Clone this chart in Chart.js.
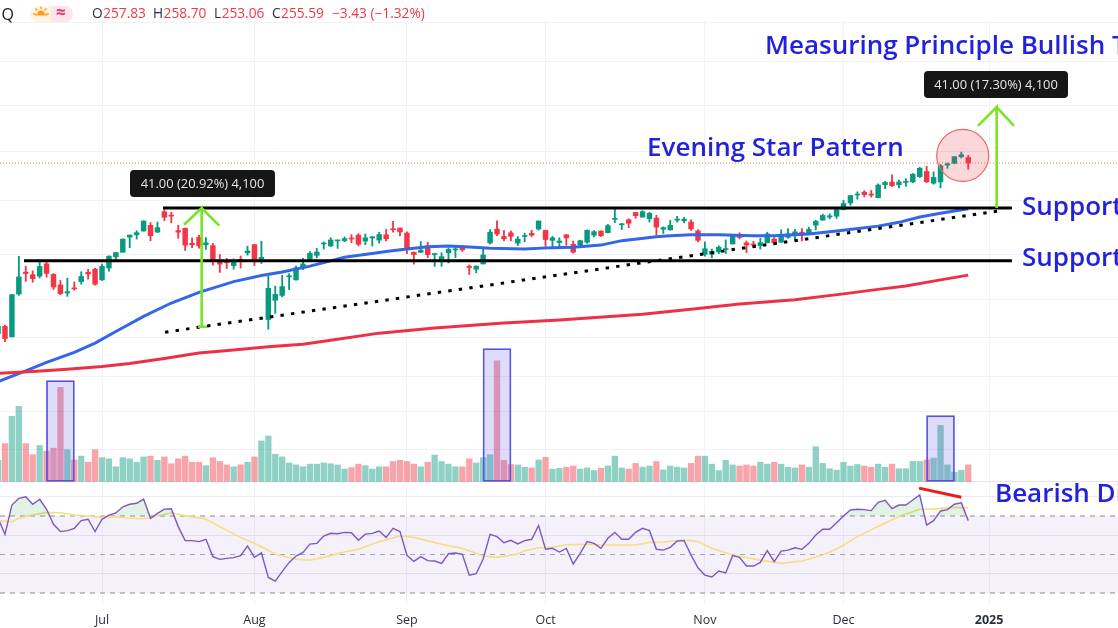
<!DOCTYPE html>
<html>
<head>
<meta charset="utf-8">
<style>
html,body{margin:0;padding:0;background:#fff;overflow:hidden}
canvas{display:block}
</style>
<script src="https://cdn.jsdelivr.net/npm/chart.js@4/dist/chart.umd.min.js"></script>
</head>
<body>
<canvas id="myChart" width="1118" height="628"></canvas>
<script>
// bars are numbered from 10 Jun (0), the first one is 7 Jun
const firstBar = -1;
const opens = [194.65,
196.90,193.65,207.37,214.74,213.85,213.37,217.59,213.93,210.39,207.72,
209.15,211.50,214.69,215.77,212.09,216.15,220.00,221.65,227.09,227.93,
229.30,231.39,228.92,236.48,235.00,229.45,230.28,224.82,227.01,224.37,
224.00,218.93,218.70,216.96,219.19,221.44,224.37,219.15,199.09,205.30,
206.90,213.11,212.10,216.07,219.01,220.57,224.60,223.92,225.72,225.77,
226.52,227.79,225.66,226.76,226.00,227.92,230.10,230.40,228.55,221.66,
221.63,223.95,220.82,218.92,221.46,222.50,223.58,216.54,215.75,217.55,
224.99,229.97,227.34,228.65,224.93,227.30,228.46,230.04,229.52,225.89,
225.14,227.90,224.50,224.30,225.23,227.78,229.30,228.70,233.61,231.60,
233.43,236.18,234.45,233.89,234.08,229.98,229.74,233.32,233.10,232.61,
229.34,220.97,220.99,221.80,222.61,224.63,227.17,225.00,224.55,224.01,
225.02,226.40,225.25,226.98,228.06,228.88,228.06,231.46,233.33,234.47,
234.81,237.27,239.81,242.87,243.99,242.91,241.83,246.89,247.96,246.89,
247.82,247.99,250.08,252.16,247.50,248.04,254.77,255.49,258.19,257.83];
const highs = [196.94,
197.30,207.16,220.20,216.75,215.17,218.95,218.63,214.24,211.89,212.70,
211.38,214.86,215.74,216.07,217.51,220.38,221.55,226.45,227.85,229.40,
233.08,232.39,232.64,237.23,236.27,231.46,230.44,226.80,227.78,226.94,
224.80,220.85,219.49,219.30,220.33,223.82,224.48,225.60,213.50,209.99,
213.64,214.20,216.78,219.51,221.89,223.03,225.35,226.83,225.99,227.17,
227.98,228.34,228.22,227.28,228.85,229.86,232.92,230.40,229.00,221.78,
225.48,225.24,221.27,221.48,223.09,223.55,224.04,217.22,216.90,222.71,
229.82,233.09,229.45,229.35,227.29,228.50,229.52,233.00,229.65,227.37,
226.81,228.00,225.69,225.98,229.75,229.50,229.41,231.73,237.49,232.12,
233.85,236.18,236.85,236.22,235.14,230.82,233.22,234.73,234.33,233.47,
229.83,225.35,222.79,223.95,226.07,227.88,228.66,225.70,225.59,226.65,
228.87,226.92,229.74,230.16,229.93,230.16,230.72,233.25,235.57,235.69,
237.81,240.79,242.76,244.11,244.54,244.63,247.24,248.21,250.80,248.74,
249.29,251.38,253.83,254.28,252.00,255.00,255.65,258.21,260.10,258.70];
const lows = [194.14,
192.15,193.63,206.90,211.60,211.30,212.72,213.00,208.85,207.11,206.59,
208.61,210.64,212.35,210.30,211.92,215.10,219.03,221.65,223.25,226.37,
229.25,225.77,228.68,233.09,232.33,226.64,222.27,223.28,223.09,222.68,
217.13,214.62,216.01,215.75,216.12,220.63,217.02,217.71,196.00,201.07,
206.39,208.83,211.97,215.60,219.01,219.70,222.76,223.65,223.04,225.45,
225.05,223.90,224.33,223.89,224.89,225.68,228.88,227.48,221.17,217.48,
221.52,219.77,216.71,216.73,217.89,219.82,221.91,213.92,214.50,217.54,
224.63,227.62,225.81,225.73,224.02,225.41,227.30,229.65,223.74,223.02,
223.32,224.13,221.33,223.25,224.83,227.17,227.34,228.60,232.37,229.84,
230.52,234.01,234.45,232.60,227.76,228.41,229.57,232.55,232.32,229.55,
225.37,220.27,219.71,221.14,221.19,224.57,226.41,221.50,223.36,222.76,
225.00,224.27,225.17,226.66,225.89,225.71,228.06,229.74,233.33,233.81,
233.97,237.16,238.90,241.25,242.13,242.08,241.75,245.34,246.26,245.68,
246.24,247.65,249.78,247.74,247.09,245.69,253.45,255.29,257.63,253.06];
const closes = [196.89,
193.12,207.15,213.07,214.24,212.49,216.67,214.29,209.68,207.49,208.14,
209.07,213.25,214.10,210.62,216.75,220.27,221.55,226.34,227.82,228.68,
232.98,227.57,230.54,234.40,234.82,228.88,224.18,224.31,223.96,225.01,
218.54,217.49,217.96,218.24,218.80,222.08,218.36,219.86,209.27,207.23,
209.82,213.31,216.24,217.53,221.27,221.72,224.72,226.05,225.89,226.51,
226.40,224.53,226.84,227.18,228.03,226.49,229.79,229.00,222.77,220.85,
222.38,220.82,220.91,220.11,222.66,222.77,222.50,216.32,216.79,220.69,
228.87,228.20,226.47,227.37,226.37,227.52,227.79,233.00,226.21,226.78,
225.67,226.80,221.69,225.77,229.54,229.04,227.55,231.30,233.85,231.78,
232.15,235.00,236.48,235.86,230.76,230.57,231.41,233.40,233.67,230.10,
225.91,222.91,222.01,223.45,222.72,227.48,226.96,224.23,224.23,225.12,
228.22,225.00,228.02,228.28,229.00,228.52,229.87,232.87,235.06,234.93,
237.33,239.59,242.65,243.01,243.04,242.84,246.75,247.77,246.49,247.96,
248.13,251.04,253.48,248.05,249.79,254.49,255.27,258.20,259.02,255.59];
// volume in millions
const volumes = [57,
101,173,199,101,72,96,81,89,249,85,
58,68,52,85,64,61,40,64,61,52,
66,68,57,66,48,61,68,52,52,43,
64,54,45,40,45,52,66,108,121,73,
66,50,45,40,47,47,50,48,45,34,
38,47,43,34,40,40,54,57,54,47,
40,52,71,54,47,40,40,61,50,64,
72,319,57,46,45,39,37,58,65,34,
36,39,42,34,37,30,36,42,68,37,
34,49,39,42,54,32,42,39,37,49,
68,68,47,30,57,45,42,45,42,52,
47,52,47,39,37,45,39,93,49,35,
31,52,42,46,42,39,47,39,47,35,
35,54,54,58,63,149,45,26,31,45];
const rsiValues = [68.8,
60.5,75.7,79.2,80.0,76.1,78.7,73.5,65.7,61.9,62.4,
63.6,67.6,68.3,61.9,68.3,70.5,71.6,74.8,76.1,76.6,
78.8,68.8,71.4,73.6,73.8,64.5,57.2,57.2,56.7,57.9,
48.9,47.5,48.0,48.4,49.4,54.4,48.5,50.8,38.1,36.2,
41.1,45.9,49.2,51.1,55.4,55.8,59.6,61.0,60.8,61.5,
61.3,57.4,60.6,61.0,62.2,58.9,63.6,61.9,49.6,46.4,
48.9,46.8,46.6,45.4,50.4,50.8,50.1,39.2,40.0,47.7,
60.5,59.3,56.1,57.4,55.5,57.2,57.9,65.0,52.7,53.2,
51.3,53.2,45.1,50.6,56.7,55.8,53.2,58.4,61.5,57.9,
57.9,61.5,63.6,62.4,52.7,52.3,53.7,57.0,57.2,49.7,
43.1,39.3,38.3,41.4,40.4,49.4,48.5,44.0,44.0,45.9,
52.0,46.3,51.8,52.3,53.5,52.7,55.8,60.1,63.2,63.1,
66.5,70.0,73.1,73.5,73.3,72.8,77.1,78.1,73.8,75.7,
75.7,78.3,80.9,65.3,67.6,72.6,73.3,76.1,76.8,67.6];

const rsiMaBars = [-1,1,2,4,6,8,10,12,14,16,18,20,22,24,26,29,31,34,36,39,42,44,46,49,51,54,57,59,63,66,69,71,74,75,77,79,81,84,87,91,93,95,98,100,102,105,109,112,115,118,120,123,126,129,132,134,137,139];
const rsiMaValues = [67.6,67.1,68.8,70.5,71.9,71.7,70.5,70.0,69.3,69.6,68.8,68.6,70.0,71.7,70.2,68.4,64.5,58.9,55.8,50.3,47.5,47.0,48.5,51.3,52.7,56.7,59.6,58.9,55.3,53.2,49.2,48.5,50.3,52.0,53.5,53.7,55.1,55.3,54.9,54.9,56.3,56.5,57.5,56.8,53.2,49.7,47.1,45.4,46.6,49.7,52.9,59.3,64.5,69.7,73.5,73.6,74.5,74.3];

const ma50Bars = [-1,3,6,10,13,16,20,24,28,33,37,40,44,49,54,55,58,61,64,67,70,75,79,82,86,89,94,96,99,103,108,111,116,120,126,129,132,135,139];
const ma50Values = [180.3,183.4,185.9,188.9,191.7,195.3,200.1,204.4,207.9,211.5,213.6,214.8,216.8,219.9,221.6,221.9,222.8,223.6,223.9,223.5,223.1,222.8,223.3,223.4,224.2,225.8,227.2,227.6,227.9,227.9,227.6,227.6,228.2,229.3,231.1,232.5,234.5,235.9,237.6];
const ma200Bars = [-1,4,9,14,18,23,28,33,38,43,47,54,62,72,80,92,100,106,114,121,126,130,135,139];
const ma200Values = [182.7,183.2,183.9,184.7,185.6,187.1,188.7,189.6,190.6,191.4,192.6,194.8,196.4,198.0,198.9,200.8,202.6,204.1,205.5,207.4,208.9,210.0,212.1,213.7];

const tickBars = [14,36,58,78,101,121,142];
const tickLabels = ["Jul","Aug","Sep","Oct","Nov","Dec","2025"];
const priceGrid = [320,300.5,280.3,260.2,240.7,220.7,205.6,193.5,181.7,171.8,161.8];
const rsiGrid = [40,60,80];

// hand drawn lines on the chart, [bar, price]
const resistanceLine = [[22.8,237.9],[145.3,237.9]];
const supportLine = [[2.74,218.7],[145.3,218.7]];
const trendLine = [[23.1,195.1],[143.8,236.9]];
const arrowUp1 = [[27.85,196.8],[29.15,196.8],[28.38,196.8],[28.38,237.9],[25.83,231.6],[28.38,237.9],[30.92,231.3]];
const arrowUp2 = [[143.1,237.9],[143.1,279.5],[140.4,271.2],[143.1,279.5],[145.6,271.2]];
const lastPrice = 255.59;
const starCircle = [138.2,258.7];
const divergence = [[131.9,84.5],[138,79.7]];
// bar, top in volume units
const volumeBoxes = [[8,267],[71,351],[135,175]];

const bars = opens.map((v,i) => i + firstBar);
const upColor = "#089981", downColor = "#f23645";
const candleColors = opens.map((o,i) => closes[i] >= o ? upColor : downColor);
const volColors = opens.map((o,i) => closes[i] >= o ? "rgba(8,153,129,0.45)" : "rgba(242,54,69,0.45)");
const pts = a => a.map(p => ({x:p[0], y:p[1]}));

function lineSet(data, axis, color, width, order, extra) {
  return Object.assign({type:"line", data:data, yAxisID:axis, borderColor:color, borderWidth:width,
    pointRadius:0, tension:0, fill:false, order:order}, extra || {});
}
const xEnds = [-0.72,160.61];
const flat = v => [{x:xEnds[0],y:v},{x:xEnds[1],y:v}];

const sunPill = function(ctx) {
  ctx.fillStyle = "#fff4df";
  ctx.beginPath(); ctx.roundRect(30,6,24,16,[8,0,0,8]); ctx.fill();
  ctx.fillStyle = "#fde3ec";
  ctx.beginPath(); ctx.roundRect(51,6,22,16,[0,8,8,0]); ctx.fill();
  ctx.fillStyle = ctx.strokeStyle = "#ff9c1a";
  ctx.beginPath(); ctx.arc(41,14,3.6,Math.PI,0); ctx.fill();
  ctx.lineWidth = 1.4;
  [[33,14,36,14],[46,14,49,14],[41,6.5,41,9],[35.5,8.5,37.5,10.5],[46.5,8.5,44.5,10.5]].forEach(r => {
    ctx.beginPath(); ctx.moveTo(r[0],r[1]); ctx.lineTo(r[2],r[3]); ctx.stroke();
  });
  ctx.fillRect(35,14,12,1.5);
  ctx.fillStyle = "#e8316f";
  ctx.font = "700 17px 'Open Sans'";
  ctx.textBaseline = "middle";
  ctx.fillText("≈",56,13.5);
};

function badge(ctx, x, y, w, h, s) {
  ctx.fillStyle = "#161616";
  ctx.beginPath(); ctx.roundRect(x,y,w,h,4); ctx.fill();
  ctx.fillStyle = "#e6e6e6";
  ctx.font = "500 12.9px 'Open Sans'";
  ctx.textAlign = "center";
  ctx.textBaseline = "middle";
  ctx.fillText(s, x+w/2, y+h/2+0.5);
  ctx.textAlign = "left";
}

const textLayer = {
  id:"textLayer",
  beforeDatasetsDraw(chart) {
    const c = chart.ctx;
    c.fillStyle = "#fff";
    c.fillRect(0,0,1118,21);
  },
  afterDraw(chart) {
    const c = chart.ctx;
    c.save();
    c.textBaseline = "middle";
    c.textAlign = "left";
    c.fillStyle = "#131722";
    c.font = "500 16px 'Open Sans'";
    c.fillText("Q",1.5,15);
    sunPill(c);

    const n = opens.length-1;
    const red = "#f23645", dark = "#2a2e39";
    const head = [["O",92],["H",153],["L",214],["C",272]];
    const vals = [opens[n],highs[n],lows[n],closes[n]];
    c.font = "500 13.7px 'Open Sans'";
    c.textBaseline = "middle";
    head.forEach((h,i) => {
      c.fillStyle = dark; c.fillText(h[0],h[1],14.5);
      c.fillStyle = red; c.fillText(vals[i].toFixed(2),h[1]+c.measureText(h[0]).width+0.5,14.5);
    });
    c.fillStyle = red;
    c.fillText("−3.43 (−1.32%)",332,14.5);

    c.fillStyle = "#2222dd";
    c.font = "600 26px 'Open Sans'";
    c.fillText("Measuring Principle Bullish T",765,47);
    c.fillText("Evening Star Pattern",647,149);
    c.fillText("Support",1022,208);
    c.fillText("Support",1022,259);
    c.fillText("Bearish Di",995,495);

    badge(c,130,170,145,27,"41.00 (20.92%) 4,100");
    badge(c,924,71,144,27,"41.00 (17.30%) 4,100");
    c.restore();
  }
};

new Chart("myChart", {
  data: {
    datasets: [
      // rsi pane
      lineSet(flat(70),"rsi","rgba(0,0,0,0)",0,60,{fill:{target:{value:30}},backgroundColor:"rgba(126,87,194,0.085)"}),
      lineSet(flat(70),"rsi","#8a8d96",1,58,{borderDash:[5,5]}),
      lineSet(flat(50),"rsi","#a3a6ae",1,58,{borderDash:[5,5]}),
      lineSet(flat(30),"rsi","#8a8d96",1,58,{borderDash:[5,5]}),
      lineSet(rsiValues.map((v,i) => ({x:bars[i],y:v})),"rsi","#7e57c2",1.4,50,
        {fill:{target:{value:70},above:"rgba(76,175,80,0.16)",below:"rgba(0,0,0,0)"}}),
      lineSet(rsiMaBars.map((b,i) => ({x:b,y:rsiMaValues[i]})),"rsi","#f4df82",1.6,52),
      lineSet(pts(divergence),"rsi","#ec1c1c",3,5),

      // volume
      {type:"bar", yAxisID:"vol", order:48, grouped:false, barThickness:5.7,
        data:volumes.map((v,i) => ({x:bars[i],y:v})), backgroundColor:volColors},
      {type:"bar", yAxisID:"vol", order:46, grouped:false, barThickness:28,
        data:volumeBoxes.map(b => ({x:b[0],y:[0,b[1]]})),
        backgroundColor:"rgba(88,80,236,0.2)", borderColor:"#5a50e0", borderWidth:1.1, borderSkipped:false},

      // candles
      lineSet(flat(lastPrice),"y","#e8805a",1,40,{borderDash:[1,2]}),
      {type:"bar", yAxisID:"y", order:34, grouped:false, barThickness:1.2,
        data:bars.map((b,i) => ({x:b,y:[lows[i],highs[i]]})), backgroundColor:candleColors},
      {type:"bar", yAxisID:"y", order:33, grouped:false, barThickness:4.8, minBarLength:1,
        data:bars.map((b,i) => ({x:b,y:[opens[i],closes[i]]})), backgroundColor:candleColors},
      lineSet(ma200Bars.map((b,i) => ({x:b,y:ma200Values[i]})),"y","#ee3046",3,30),
      lineSet(ma50Bars.map((b,i) => ({x:b,y:ma50Values[i]})),"y","#3566e6",3,30),

      // drawings
      {type:"scatter", yAxisID:"y", order:22, data:[{x:starCircle[0],y:starCircle[1]}], pointRadius:26,
        backgroundColor:"rgba(242,54,69,0.2)", borderColor:"#e46a6a", borderWidth:1.2},
      lineSet(pts(resistanceLine),"y","#000",3,12),
      lineSet(pts(supportLine),"y","#000",3,12),
      lineSet(pts(trendLine),"y","#000",3,12,{borderDash:[3.4,7.2]}),
      lineSet(pts(arrowUp1),"y","#78e428",2.6,10),
      lineSet(pts(arrowUp2),"y","#78e428",2.6,10)
    ]
  },
  options: {
    responsive: false,
    animation: false,
    events: [],
    layout: {padding:0, autoPadding:false},
    plugins: {legend:{display:false}, tooltip:{enabled:false}},
    scales: {
      x: {
        type:"linear", min:xEnds[0], max:xEnds[1], offset:false,
        afterBuildTicks: s => { s.ticks = tickBars.map(v => ({value:v})); },
        afterFit: s => { s.height = 24; },
        border:{display:false},
        grid:{color:"#f1f2f5", drawTicks:false, offset:false},
        ticks:{
          autoSkip:false, maxRotation:0, padding:9, color:"#2a2e39",
          callback: v => tickLabels[tickBars.indexOf(v)],
          font: c => ({family:"'Open Sans'", size:12.5, weight: c.index === 6 ? "700" : "400"})
        }
      },
      y: {
        type:"logarithmic", position:"left", bounds:"data", min:126.4, max:331.6,
        afterBuildTicks: s => { s.ticks = priceGrid.map(v => ({value:v})); },
        afterFit: s => { s.width = 0; },
        border:{display:false},
        grid:{color:"#f1f2f5", drawTicks:false},
        ticks:{display:false}
      },
      vol: {
        type:"linear", position:"left", bounds:"data", min:-321.05, max:1268.4,
        afterBuildTicks: s => { s.ticks = [{value:0}]; },
        afterFit: s => { s.width = 0; },
        border:{display:false},
        grid:{color:"#e3e5ea", drawTicks:false},
        ticks:{display:false}
      },
      rsi: {
        type:"linear", position:"left", bounds:"data", min:24.29, max:338.05,
        afterBuildTicks: s => { s.ticks = rsiGrid.map(v => ({value:v})); },
        afterFit: s => { s.width = 0; },
        border:{display:false},
        grid:{color:"#eceaf2", drawTicks:false},
        ticks:{display:false}
      }
    }
  },
  plugins: [textLayer]
});
</script>
</body>
</html>
